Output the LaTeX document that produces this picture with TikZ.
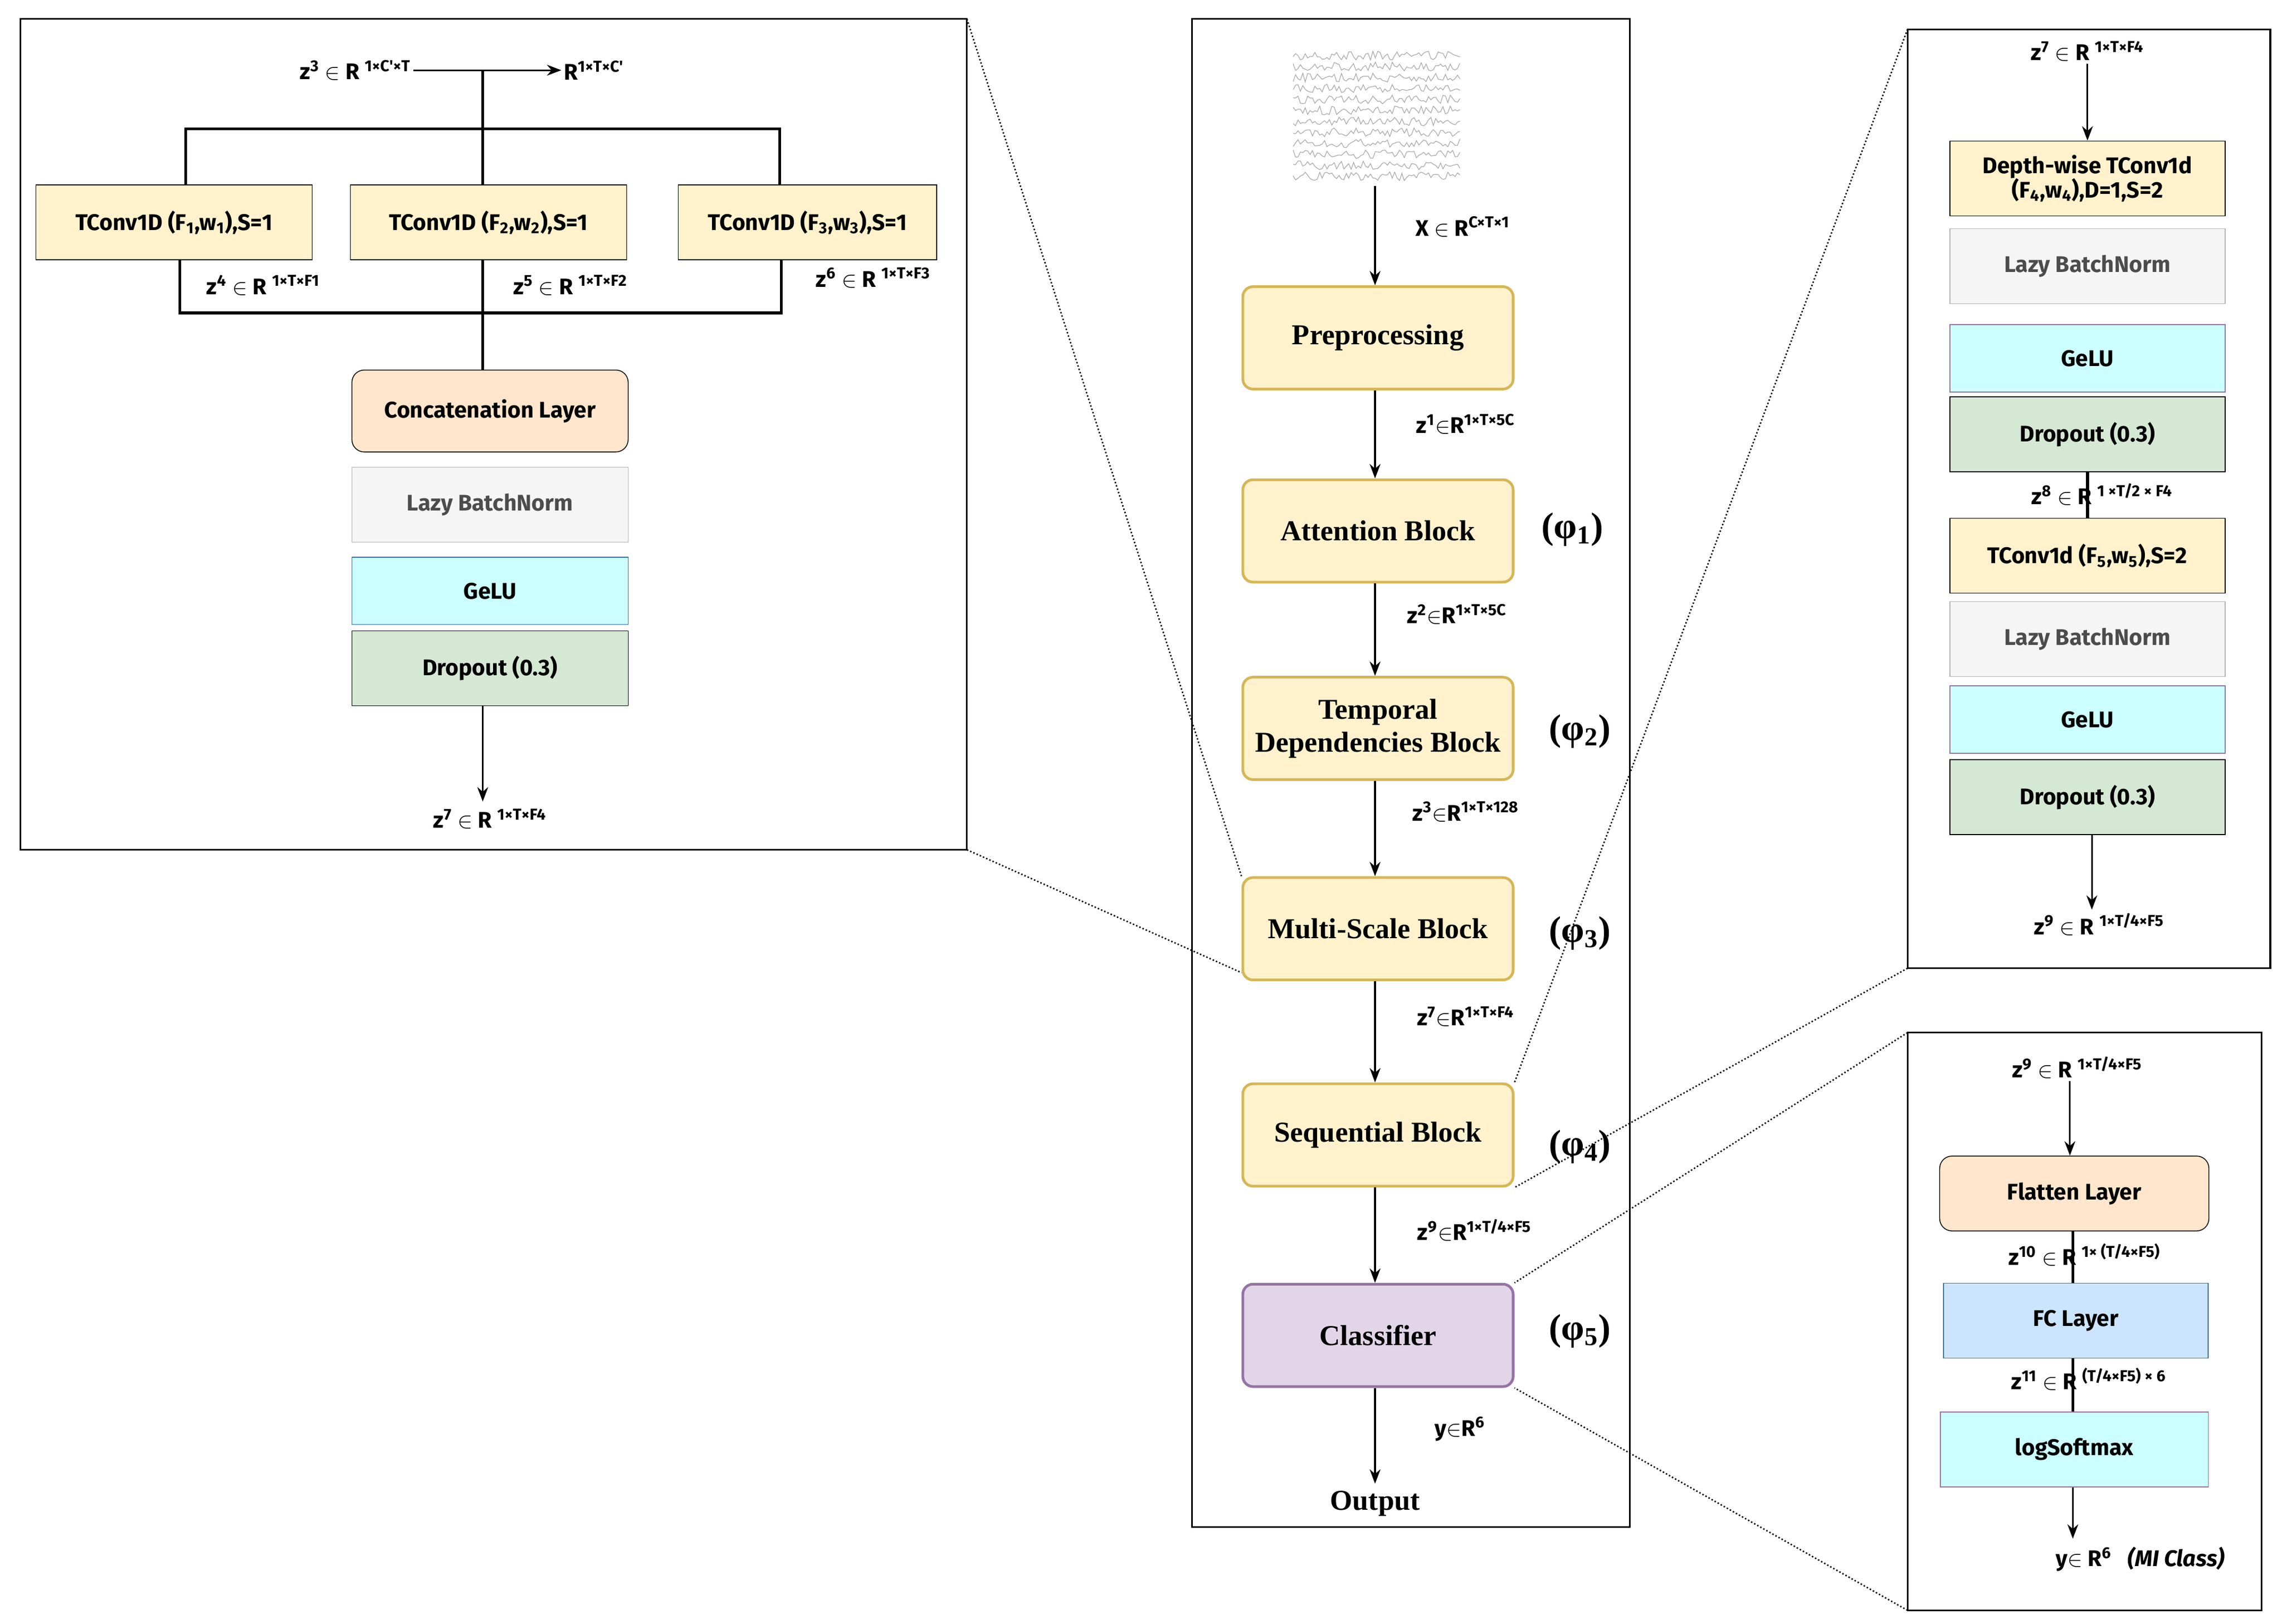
\documentclass[tikz,border=0pt]{standalone}
\usepackage{fontspec}
\setmainfont{Liberation Serif}
\newfontfamily\panelfont{Fira Sans}
\usetikzlibrary{arrows.meta}
\definecolor{yelF}{HTML}{FFF2CC}\definecolor{yelD}{HTML}{D6B656}
\definecolor{orgF}{HTML}{FFE6CC}\definecolor{gryF}{HTML}{F5F5F5}
\definecolor{cynF}{HTML}{CCFFFF}\definecolor{grnF}{HTML}{D5E8D4}
\definecolor{purF}{HTML}{E1D5E7}\definecolor{purD}{HTML}{9673A6}
\definecolor{bluF}{HTML}{CCE5FF}\definecolor{bluD}{HTML}{36739E}
\newcommand{\up}[1]{\textsuperscript{#1}}
\newcommand{\dn}[1]{\textsubscript{#1}}
\begin{document}
\begin{tikzpicture}[x={(0.025cm,0)},y={(0,-0.025cm)},
  main/.style={draw=yelD,fill=yelF,line width=1.3pt,rounded corners=5pt,minimum width=4.62cm,minimum height=1.75cm,align=center,font=\fontsize{14}{16}\selectfont\bfseries},
  blk/.style={draw,minimum width=4.72cm,minimum height=1.28cm,align=center,font=\panelfont\fontsize{11}{12}\selectfont\bfseries},
  lbl/.style={font=\panelfont\fontsize{11}{13}\selectfont\bfseries,inner sep=1pt},
  phi/.style={font=\fontsize{18}{20}\selectfont\bfseries},
  arr/.style={-{Stealth[length=7pt]},line width=0.8pt},
  zoomline/.style={densely dotted,line width=0.7pt}]
\useasboundingbox (0,0) rectangle (1560,1110);
\fill[white] (0,0) rectangle (1560,1110);
% panels
\draw[line width=0.8pt] (14,13) rectangle (661,581);
\draw[line width=0.8pt] (815,13) rectangle (1114,1044);
\draw[line width=0.8pt] (1304,20) rectangle (1552,662);
\draw[line width=0.8pt] (1304,706) rectangle (1546,1101);

% signal
\pgfmathsetseed{7}
\foreach \k in {0,...,11}
  \draw[gray!70,line width=0.3pt] plot[domain=884:998,samples=70] (\x,{38+\k*7.5+3*rand});
\coordinate (sig) at (940,127);

% main column
\node[main] (pre) at (942,231) {Preprocessing};
\node[main] (att) at (942,363) {Attention Block};
\node[main] (tmp) at (942,498) {Temporal\\Dependencies Block};
\node[main] (msb) at (942,635) {Multi-Scale Block};
\node[main] (seq) at (942,776) {Sequential Block};
\node[main,draw=purD,fill=purF] (cls) at (942,913) {Classifier};
\node[font=\fontsize{14}{16}\selectfont\bfseries] (out) at (940,1028) {Output};
\draw[arr] (sig) -- (pre.north -| sig);
\draw[arr] (pre.south -| sig) -- (att.north -| sig);
\draw[arr] (att.south -| sig) -- (tmp.north -| sig);
\draw[arr] (tmp.south -| sig) -- (msb.north -| sig);
\draw[arr] (msb.south -| sig) -- (seq.north -| sig);
\draw[arr] (seq.south -| sig) -- (cls.north -| sig);
\draw[arr] (cls.south -| sig) -- (out.north);
\node[lbl] (l0) at (1000,155) {X $\in$ R\up{C×T×1}};
\node[lbl] (l1) at (1002,290) {z\up{1}$\in$R\up{1×T×5C}};
\node[lbl] (l2) at (996,420) {z\up{2}$\in$R\up{1×T×5C}};
\node[lbl] (l3) at (1002,555) {z\up{3}$\in$R\up{1×T×128}};
\node[lbl] (l4) at (1002,695) {z\up{7}$\in$R\up{1×T×F4}};
\node[lbl] (l5) at (1008,841) {z\up{9}$\in$R\up{1×T/4×F5}};
\node[lbl] (l6) at (998,977) {y$\in$R\up{6}};
\node[phi] (p1) at (1075,362) {(φ\dn{1})};
\node[phi] (p2) at (1080,500) {(φ\dn{2})};
\node[phi] (p3) at (1080,638) {(φ\dn{3})};
\node[phi] (p4) at (1080,784) {(φ\dn{4})};
\node[phi] (p5) at (1080,910) {(φ\dn{5})};

% multi-scale detail
\node[lbl] (in3) at (243,48) {z\up{3} $\in$ R \up{1×C'×T}};
\node[lbl] (ot3) at (406,48) {R\up{1×T×C'}};
\draw[arr] (in3.east) -- (ot3.west);
\node[blk,draw=black,fill=yelF] (tc1) at (119,152) {TConv1D (F\dn{1},w\dn{1}),S=1};
\node[blk,draw=black,fill=yelF] (tc2) at (334,152) {TConv1D (F\dn{2},w\dn{2}),S=1};
\node[blk,draw=black,fill=yelF,minimum width=4.42cm] (tc3) at (552,152) {TConv1D (F\dn{3},w\dn{3}),S=1};
\coordinate (sp) at (330,88);
\coordinate (jn) at (330,214);
\draw[line width=1.4pt] (330,48) -- (sp);
\draw[line width=1.4pt] (tc1.north -| 127,0) |- (sp) -| (tc3.north -| 533,0);
\draw[line width=1.4pt] (sp) -- (tc2.north -| sp);
\draw[line width=1.4pt] (tc1.south -| 123,0) |- (jn) -| (tc3.south -| 534,0);
\draw[line width=1.4pt] (tc2.south -| jn) -- (jn);
\node[blk,draw=black,fill=orgF,rounded corners=6pt,minimum height=1.4cm] (cat) at (335,281) {Concatenation Layer};
\draw[line width=1.4pt] (jn) -- (cat.north -| jn);
\node[blk,draw=gray!60,fill=gryF,text=black!70] (bn1) at (335,345) {Lazy BatchNorm};
\node[blk,draw=bluD,fill=cynF,minimum height=1.15cm] (ge1) at (335,404) {GeLU};
\node[blk,draw=black,fill=grnF] (dr1) at (335,457) {Dropout (0.3)};
\coordinate (o7) at (330,548);
\draw[arr] (dr1.south -| o7) -- (o7);
\node[lbl] (z4) at (180,195) {z\up{4} $\in$ R \up{1×T×F1}};
\node[lbl] (z5) at (390,195) {z\up{5} $\in$ R \up{1×T×F2}};
\node[lbl] (z6) at (597,190) {z\up{6} $\in$ R \up{1×T×F3}};
\node[lbl] (z7) at (335,560) {z\up{7} $\in$ R \up{1×T×F4}};

% sequential detail
\node[lbl] (s7) at (1427,35) {z\up{7} $\in$ R \up{1×T×F4}};
\node[blk,draw=black,fill=yelF,minimum width=4.7cm] (dw) at (1427,122) {Depth-wise TConv1d\\(F\dn{4},w\dn{4}),D=1,S=2};
\draw[arr] (s7.south -| dw) -- (dw.north);
\node[blk,draw=gray!60,fill=gryF,text=black!70,minimum width=4.7cm] (bn2) at (1427,182) {Lazy BatchNorm};
\node[blk,draw=purD,fill=cynF,minimum width=4.7cm,minimum height=1.15cm] (ge2) at (1427,245) {GeLU};
\node[blk,draw=black,fill=grnF,minimum width=4.7cm] (dr2) at (1427,297) {Dropout (0.3)};
\node[blk,draw=black,fill=yelF,minimum width=4.7cm] (tc5) at (1427,380) {TConv1d (F\dn{5},w\dn{5}),S=2};
\draw[line width=1.4pt] (dr2.south) -- (tc5.north);
\node[lbl] (s8) at (1437,338) {z\up{8} $\in$ R \up{1 ×T/2 × F4}};
\node[blk,draw=gray!60,fill=gryF,text=black!70,minimum width=4.7cm] (bn3) at (1427,437) {Lazy BatchNorm};
\node[blk,draw=purD,fill=cynF,minimum width=4.7cm,minimum height=1.15cm] (ge3) at (1427,492) {GeLU};
\node[blk,draw=black,fill=grnF,minimum width=4.7cm] (dr3) at (1427,545) {Dropout (0.3)};
\coordinate (o9) at (1430,622);
\draw[arr] (dr3.south -| o9) -- (o9);
\node[lbl] (s9) at (1435,632) {z\up{9} $\in$ R \up{1×T/4×F5}};

% classifier detail
\node[lbl] (c9) at (1420,730) {z\up{9} $\in$ R \up{1×T/4×F5}};
\node[blk,draw=black,fill=orgF,rounded corners=6pt,minimum width=4.6cm] (fl) at (1418,816) {Flatten Layer};
\draw[arr] (c9.south -| 1415,0) -- (fl.north -| 1415,0);
\node[blk,draw=bluD,fill=bluF,minimum width=4.52cm] (fc) at (1419,903) {FC Layer};
\draw[line width=1.4pt] (fl.south -| 1417,0) -- (fc.north -| 1417,0);
\node[lbl] (c10) at (1425,858) {z\up{10} $\in$ R \up{1× (T/4×F5)}};
\node[blk,draw=purD,fill=cynF,minimum width=4.58cm] (lsm) at (1418,991) {logSoftmax};
\draw[line width=1.4pt] (fc.south -| 1417,0) -- (lsm.north -| 1417,0);
\node[lbl] (c11) at (1428,943) {z\up{11} $\in$ R \up{(T/4×F5) × 6}};
\coordinate (oy) at (1417,1052);
\draw[arr] (lsm.south -| oy) -- (oy);
\node[lbl] (cy) at (1463,1066) {y$\in$ R\up{6} \ \ \textit{(MI Class)}};

% zoom lines
\draw[zoomline] (661,13) -- (msb.north west);
\draw[zoomline] (661,581) -- ([yshift=-0.75cm]msb.west);
\draw[zoomline] (1304,20) -- (seq.north east);
\draw[zoomline] (1304,662) -- (seq.south east);
\draw[zoomline] (1304,706) -- (cls.north east);
\draw[zoomline] (1304,1101) -- (cls.south east);
\end{tikzpicture}
\end{document}
